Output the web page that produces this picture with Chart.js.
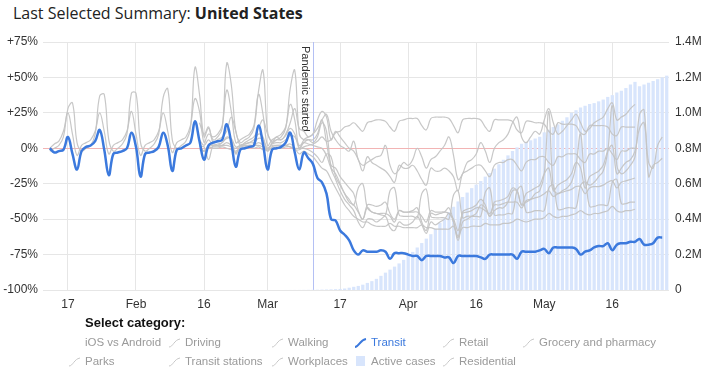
<!DOCTYPE html>
<html>
<head>
<meta charset="utf-8">
<script src="https://cdn.jsdelivr.net/npm/chart.js@4.4.1/dist/chart.umd.min.js"></script>
<style>
  body { margin: 0; width: 711px; height: 375px; background: #fff; overflow: hidden; position: relative; }
  #title { position: absolute; left: 13px; top: 2px; font-family: 'Open Sans', sans-serif; font-size: 16px; color: #222; white-space: nowrap; }
  #title b { font-weight: 700; }
  #wrap { position: absolute; left: 0; top: 0; width: 711px; height: 316px; }
  #legend { position: absolute; left: 0; top: 0; width: 711px; height: 375px; pointer-events: none; font-family: 'Liberation Sans', Arial, sans-serif; font-size: 11.5px; color: #9a9a9a; }
  #legend .head { position: absolute; left: 85px; top: 315px; font-weight: bold; font-size: 13px; color: #111; }
  #legend .item { position: absolute; white-space: nowrap; line-height: 14px; }
  #legend .item svg { position: absolute; left: -17px; top: 2px; }
</style>
</head>
<body>
<div id="title">Last Selected Summary: <b>United States</b></div>
<div id="wrap"><canvas id="chart"></canvas></div>
<div id="legend"><div class="head">Select category:</div></div>
<script>
// day 0 = 2020-01-13
const xTickDays = [4, 19, 34, 48, 64, 79, 94, 109, 124];
const xTickLabels = ['17', 'Feb', '16', 'Mar', '17', 'Apr', '16', 'May', '16'];
const pandemicDay = 58;

// Apple series start on day 0
const transit = [0,-3,-2,-1,8,-4,-15,
  -2,1,2,5,13,-1,-19,
  -4,-3,-2,0,11,1,-20,
  -4,-3,-2,1,11,2,-16,
  -1,0,2,4,19,5,-8,
  2,4,5,6,17,4,-13,
  -1,0,1,2,16,3,-15,
  -1,0,1,4,11,-3,-15,
  -3,-7,-11,-21,-24,-32,-50,
  -51,-58,-61,-65,-72,-75,-72,
  -73,-73,-73,-72,-73,-78,-74,
  -74,-74,-75,-76,-76,-79,-76,
  -76,-76,-76,-77,-77,-81,-76,
  -76,-76,-76,-76,-77,-78,-75,
  -75,-75,-75,-75,-75,-78,-73,
  -73,-73,-73,-72,-71,-74,-70,
  -70,-70,-70,-70,-71,-75,-73,
  -72,-70,-69,-69,-67,-72,-68,
  -67,-67,-66,-66,-64,-68,-68,
  -67,-63,-63];
const driving = [0,3,5,12,25,10,-5,
  2,4,6,12,25,12,-4,
  2,4,6,12,26,10,-5,
  2,4,6,12,25,12,-3,
  4,6,8,16,35,26,4,
  10,8,10,16,41,26,4,
  6,8,10,16,38,24,2,
  6,8,10,15,31,20,0,
  4,6,6,10,20,4,-12,
  -14,-20,-24,-28,-32,-44,-50,
  -40,-40,-41,-40,-38,-46,-50,
  -44,-45,-45,-44,-42,-52,-58,
  -46,-47,-46,-45,-42,-52,-63,
  -45,-43,-42,-40,-36,-40,-48,
  -38,-37,-36,-34,-28,-30,-40,
  -32,-30,-28,-26,-18,-14,-30,
  -26,-24,-22,-18,-10,-14,-28,
  -20,-18,-16,-12,-2,2,-18,
  -14,-10,-8,-2,14,18,-10,
  -14,2,8];
const walking = [-2,0,2,8,28,32,4,
  -2,0,2,10,37,38,6,
  -2,0,3,10,39,39,4,
  -2,0,3,10,36,42,6,
  0,2,5,14,57,38,8,
  14,6,8,14,60,45,12,
  4,6,8,14,40,55,12,
  4,6,8,14,42,55,10,
  6,6,4,8,18,12,-14,
  -22,-30,-36,-40,-44,-52,-56,
  -50,-50,-52,-50,-48,-56,-58,
  -52,-54,-54,-52,-48,-54,-60,
  -52,-54,-52,-50,-46,-52,-65,
  -52,-50,-48,-46,-40,-42,-48,
  -44,-42,-42,-38,-30,-30,-40,
  -38,-36,-32,-30,-18,26,-28,
  -32,-30,-28,-24,-12,10,-22,
  -26,-24,-20,-16,-2,30,-12,
  -18,-16,-12,-6,24,27,-20,
  -12,-10,-7];

// Google series start on day 33 (Feb 15)
const googleStart = 33;
const residential = [-1,-2,
  1,0,0,1,0,-1,-2,
  0,0,1,0,1,-1,-1,
  0,1,0,1,1,-1,-1,
  1,2,3,5,8,5,6,
  11,12,15,16,18,15,12,
  18,19,20,20,19,15,12,
  19,20,21,21,21,16,13,
  21,22,22,22,21,16,11,
  20,21,21,21,20,15,12,
  20,20,20,20,19,13,11,
  19,19,18,18,17,12,10,
  18,17,17,17,16,11,10,
  16,16,16,16,15,10,9,
  15,15,15,15];
const parks = [18,10,
  15,4,6,8,12,22,12,
  2,4,6,8,14,20,10,
  5,8,6,10,18,28,14,
  12,8,10,14,20,24,12,
  6,2,0,-2,5,-8,-12,
  -10,-8,-6,-5,2,-12,-18,
  -15,-10,-12,-8,0,-6,-14,
  -8,-6,-2,2,8,-5,-22,
  -18,-10,-8,-4,4,-2,-10,
  0,4,6,10,18,22,8,
  4,8,12,10,20,28,18,
  10,12,16,20,24,18,12,
  14,18,20,22,28,32,20,
  22,24,28,31];
const grocery = [4,-2,
  2,2,3,4,8,6,-4,
  2,3,4,6,10,8,-2,
  4,6,6,9,14,10,0,
  6,8,10,20,26,22,6,
  12,8,4,0,-2,-8,-16,
  -6,-10,-12,-14,-16,-20,-24,
  -12,-14,-14,-12,-16,-22,-26,
  -14,-16,-16,-14,-16,-20,-30,
  -18,-16,-14,-12,-12,-16,-20,
  -12,-10,-10,-8,-8,-12,-16,
  -10,-8,-8,-6,-6,-10,-12,
  -6,-6,-4,-4,-4,-8,-10,
  -4,-4,-2,-2,0,-4,-8,
  -2,-2,0,0];
const retail = [6,2,
  6,2,2,4,7,7,1,
  2,3,4,4,7,6,0,
  3,4,4,6,9,8,2,
  4,3,2,1,0,-5,-14,
  -18,-25,-32,-38,-40,-45,-50,
  -42,-45,-46,-46,-46,-48,-52,
  -44,-45,-45,-45,-45,-48,-52,
  -44,-45,-45,-45,-46,-50,-58,
  -46,-45,-44,-42,-42,-44,-46,
  -40,-40,-39,-38,-38,-38,-42,
  -37,-36,-35,-34,-32,-30,-34,
  -32,-31,-30,-29,-27,-27,-32,
  -28,-27,-27,-26,-24,-23,-28,
  -24,-23,-22,-21];
const transitStations = [2,-2,
  0,1,1,2,4,2,-3,
  1,1,2,2,4,2,-2,
  1,2,2,2,3,0,-4,
  -2,-4,-6,-10,-14,-16,-22,
  -28,-34,-40,-44,-48,-50,-52,
  -52,-54,-55,-55,-55,-53,-55,
  -55,-56,-56,-56,-56,-54,-56,
  -56,-57,-57,-57,-57,-55,-62,
  -56,-56,-55,-55,-55,-53,-54,
  -54,-54,-53,-53,-52,-50,-51,
  -52,-51,-50,-50,-49,-46,-48,
  -49,-48,-48,-47,-46,-44,-46,
  -47,-46,-46,-45,-44,-41,-44,
  -45,-44,-44,-43];
const workplaces = [1,1,
  -8,2,2,2,2,1,0,
  2,2,2,2,2,1,0,
  2,2,2,2,1,0,0,
  0,-1,-3,-6,-10,-4,-6,
  -20,-26,-32,-36,-40,-28,-25,
  -42,-45,-46,-47,-47,-30,-28,
  -47,-48,-48,-48,-49,-32,-29,
  -48,-49,-49,-49,-50,-33,-30,
  -49,-48,-48,-48,-48,-31,-28,
  -47,-47,-47,-46,-46,-30,-27,
  -45,-45,-44,-44,-44,-28,-26,
  -43,-43,-42,-42,-42,-26,-24,
  -41,-41,-40,-40,-40,-24,-22,
  -39,-39,-38,-38];

// active cases start on day 48 (Mar 1)
const casesStart = 48;
const activeCases = [70,90,110,150,210,300,400,
  500,700,950,1200,1600,2100,2700,3400,4500,
  6000,8500,13000,18000,23000,30000,40000,50000,63000,80000,98000,115000,132000,
  150000,170000,192000,215000,240000,265000,290000,315000,345000,380000,405000,
  440000,470000,500000,525000,550000,575000,595000,615000,640000,660000,685000,
  710000,735000,760000,785000,805000,825000,835000,845000,855000,865000,890000,
  905000,920000,935000,955000,975000,1000000,1015000,1030000,1040000,1050000,
  1055000,1065000,1075000,1090000,1100000,1115000,1125000,1140000,1160000,1175000,
  1150000,1160000,1170000,1180000,1190000,1200000,1210000];

const legendRows = [
  ['iOS vs Android', 'Driving', 'Walking', 'Transit', 'Retail', 'Grocery and pharmacy'],
  ['Parks', 'Transit stations', 'Workplaces', 'Active cases', 'Residential']
];
const legendCols = [85, 185, 288, 371, 459, 539];

const BLUE = '#3b79dd';
const GRAY = 'rgba(196,196,196,0.95)';

function pts(values, start) {
  return values.map((v, i) => ({ x: start + i, y: v }));
}

function grayLine(label, values, start) {
  return {
    type: 'line', label: label, data: pts(values, start), yAxisID: 'y',
    borderColor: GRAY, borderWidth: 1.2, pointRadius: 0, tension: 0.4, order: 1
  };
}

const markers = {
  id: 'markers',
  beforeDatasetsDraw(chart) {
    const { ctx, chartArea, scales } = chart;
    ctx.save();
    // zero line
    const y0 = Math.round(scales.y.getPixelForValue(0)) + 0.5;
    ctx.strokeStyle = '#f2b4b4';
    ctx.lineWidth = 1;
    ctx.beginPath();
    ctx.moveTo(chartArea.left, y0);
    ctx.lineTo(chartArea.right, y0);
    ctx.stroke();
    // pandemic line
    const px = Math.round(scales.x.getPixelForValue(pandemicDay)) + 0.5;
    ctx.strokeStyle = '#b4c0f4';
    ctx.beginPath();
    ctx.moveTo(px, chartArea.top);
    ctx.lineTo(px, chartArea.bottom);
    ctx.stroke();
    ctx.translate(px - 3, chartArea.top + 4);
    ctx.rotate(Math.PI / 2);
    ctx.fillStyle = '#333';
    ctx.font = '11px "Liberation Sans", Arial, sans-serif';
    ctx.textAlign = 'left';
    ctx.textBaseline = 'top';
    ctx.fillText('Pandemic started', 0, 0);
    ctx.restore();
  }
};

const tickFont = { family: '"Liberation Sans", Arial, sans-serif', size: 12 };

new Chart(document.getElementById('chart'), {
  type: 'bar',
  data: {
    datasets: [
      { type: 'line', label: 'Transit', data: pts(transit, 0), yAxisID: 'y',
        borderColor: BLUE, borderWidth: 2.5, pointRadius: 0, tension: 0.4, order: 0 },
      grayLine('Driving', driving, 0),
      grayLine('Walking', walking, 0),
      grayLine('Retail', retail, googleStart),
      grayLine('Grocery and pharmacy', grocery, googleStart),
      grayLine('Parks', parks, googleStart),
      grayLine('Transit stations', transitStations, googleStart),
      grayLine('Workplaces', workplaces, googleStart),
      grayLine('Residential', residential, googleStart),
      { type: 'bar', label: 'Active cases', data: pts(activeCases, casesStart), yAxisID: 'y1',
        backgroundColor: '#d8e5fc', barPercentage: 0.72, categoryPercentage: 1, order: 2 }
    ]
  },
  options: {
    responsive: true,
    maintainAspectRatio: false,
    animation: false,
    layout: { padding: { top: 42, left: 0, right: 0, bottom: 0 } },
    plugins: { legend: { display: false }, tooltip: { enabled: false } },
    scales: {
      x: {
        type: 'linear', min: -1.5, max: 136.5, offset: false,
        grid: { color: '#e6e6e6', drawTicks: false, offset: false },
        border: { display: false },
        afterBuildTicks: (scale) => { scale.ticks = xTickDays.map(v => ({ value: v })); },
        afterFit: (scale) => { scale.height = 26; },
        ticks: {
          autoSkip: false, maxRotation: 0, padding: 7, color: '#333', font: tickFont,
          callback: (v, i) => xTickLabels[i]
        }
      },
      y: {
        position: 'left', min: -100, max: 75,
        grid: { color: '#e6e6e6', drawTicks: false },
        border: { display: false },
        afterFit: (scale) => { scale.width = 43; },
        ticks: {
          stepSize: 25, padding: 5, color: '#333', font: tickFont,
          callback: (v) => (v > 0 ? '+' : '') + v + '%'
        }
      },
      y1: {
        position: 'right', min: 0, max: 1400000,
        grid: { display: false, drawTicks: false },
        border: { display: false },
        afterFit: (scale) => { scale.width = 42; },
        ticks: {
          stepSize: 200000, padding: 6, color: '#333', font: tickFont,
          callback: (v) => v === 0 ? '0' : (v / 1000000).toFixed(1) + 'M'
        }
      }
    }
  },
  plugins: [markers]
});

// legend built from the names above
const legendEl = document.getElementById('legend');
legendRows.forEach((row, r) => {
  row.forEach((name, c) => {
    const el = document.createElement('div');
    el.className = 'item';
    el.style.left = legendCols[c] + 'px';
    el.style.top = (335 + r * 19) + 'px';
    el.textContent = name;
    let icon = '';
    if (name === 'Active cases') {
      icon = '<svg width="12" height="12"><rect x="2" y="0" width="9" height="10" fill="#d8e5fc"/></svg>';
    } else if (name === 'Transit') {
      el.style.color = BLUE;
      icon = '<svg width="14" height="12"><path d="M1 10 C5 10 6 3 12 2" stroke="' + BLUE + '" stroke-width="2" fill="none"/></svg>';
    } else if (name !== 'iOS vs Android') {
      icon = '<svg width="14" height="12"><path d="M1 10 C5 10 6 3 12 2" stroke="#c8c8c8" stroke-width="1" fill="none"/></svg>';
    }
    el.insertAdjacentHTML('afterbegin', icon);
    legendEl.appendChild(el);
  });
});
</script>
</body>
</html>
